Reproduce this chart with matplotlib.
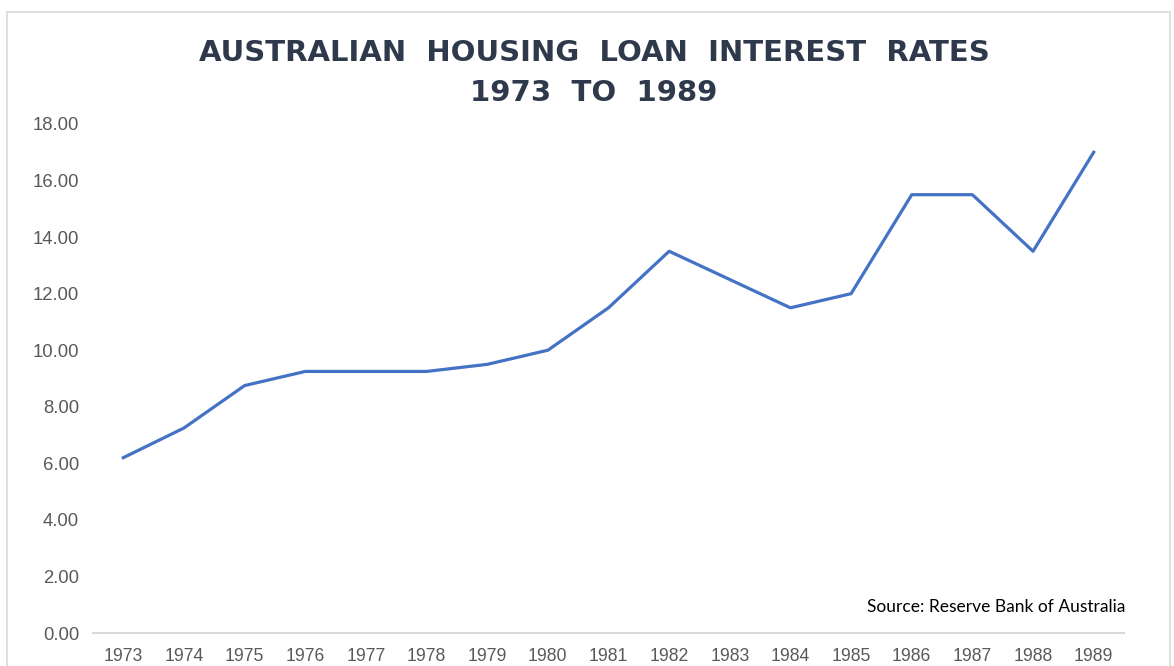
import matplotlib
matplotlib.use("Agg")
import matplotlib.pyplot as plt
from matplotlib.patches import Rectangle

years = ["1973", "1974", "1975", "1976", "1977", "1978", "1979", "1980", "1981",
         "1982", "1983", "1984", "1985", "1986", "1987", "1988", "1989"]
rates = [6.2, 7.25, 8.75, 9.25, 9.25, 9.25, 9.5, 10.0, 11.5,
         13.5, 12.5, 11.5, 12.0, 15.5, 15.5, 13.5, 17.0]
y_ticks = [0, 2, 4, 6, 8, 10, 12, 14, 16, 18]

W, H = 1174, 666
fig = plt.figure(figsize=(W / 100, H / 100), dpi=100)
fig.patch.set_facecolor("white")

# chart area border
fig.patches.append(Rectangle((7 / W, -0.05), (1170 - 7) / W, (H - 12) / H + 0.05,
                             transform=fig.transFigure, fill=False,
                             edgecolor="#d9d9d9", linewidth=1.2))

ax = fig.add_axes([93 / W, 1 - 633 / H, (1124 - 93) / W, (633 - 124) / H])
x = list(range(len(years)))
ax.plot(x, rates, color="#4472C4", linewidth=2.3, solid_joinstyle="round")

ax.set_xlim(-0.5, len(years) - 0.5)
ax.set_ylim(0, 18)
ax.set_xticks(x)
ax.set_xticklabels(years)
ax.set_yticks(y_ticks)
ax.set_yticklabels([f"{v:.2f}" for v in y_ticks])

for s in ["top", "right", "left"]:
    ax.spines[s].set_visible(False)
ax.spines["bottom"].set_color("#d9d9d9")
ax.spines["bottom"].set_linewidth(1.5)
ax.tick_params(axis="both", length=0, colors="#595959")
ax.tick_params(axis="x", pad=11, labelsize=12.7)
ax.tick_params(axis="y", pad=10, labelsize=13.3)
for lab in ax.get_xticklabels() + ax.get_yticklabels():
    lab.set_fontfamily("Liberation Sans")

fig.text(594 / W, 1 - 53 / H, "AUSTRALIAN  HOUSING  LOAN  INTEREST  RATES",
         ha="center", va="center", fontsize=21, fontweight="bold",
         color="#2e3a4b", family="DejaVu Sans")
fig.text(594 / W, 1 - 93 / H, "1973  TO  1989",
         ha="center", va="center", fontsize=21, fontweight="bold",
         color="#2e3a4b", family="DejaVu Sans")

ax.text(1125 / W, 1 - 607 / H, "Source: Reserve Bank of Australia",
        transform=fig.transFigure, ha="right", va="center",
        fontsize=12.5, color="black", family="Lato")

fig.savefig("out.png", dpi=100)
